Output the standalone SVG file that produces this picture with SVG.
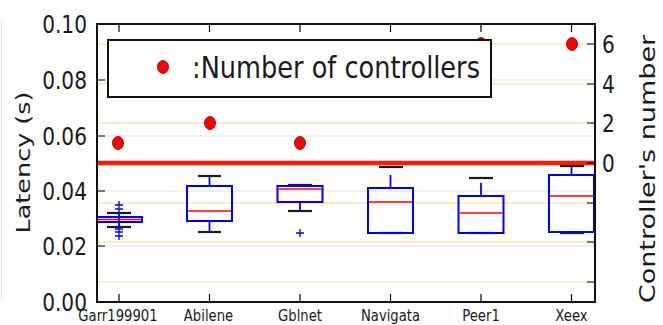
<svg xmlns="http://www.w3.org/2000/svg" width="663" height="325" viewBox="0 0 663 325">
<style>
text{font-family:"DejaVu Sans","Liberation Sans",sans-serif;fill:#1a1a1a}
.gg{stroke:#ebebeb;stroke-width:1.5}
.og{stroke:#ffe2b4;stroke-width:1.5}
.tk{stroke:#000;stroke-width:1.2}
.box{fill:none;stroke:#0000ff;stroke-width:2}
.wh{stroke:#0000ff;stroke-width:1.8}
.cap{stroke:#1a1a1a;stroke-width:2.2}
.med{stroke:#ff0000;stroke-width:1.6}
.fl{stroke:#0000ff;stroke-width:1.3;fill:none}
.dot{fill:#ff0000;stroke:#7a0000;stroke-width:0.8}
.yl{font-size:25.5px;text-anchor:end}
.yr{font-size:25.5px}
.xl{font-size:16.5px;text-anchor:middle}
</style>
<rect width="663" height="325" fill="#fff"/>
<line x1="1.5" y1="22" x2="1.5" y2="298" stroke="#e4e4e4" stroke-width="1"/>
<g id="grid">
<line class="gg" x1="97" y1="80" x2="595" y2="80"/>
<line class="gg" x1="97" y1="136" x2="595" y2="136"/>
<line class="gg" x1="97" y1="191" x2="595" y2="191"/>
<line class="gg" x1="97" y1="246" x2="595" y2="246"/>
<line class="og" x1="97" y1="44" x2="595" y2="44"/>
<line class="og" x1="97" y1="84" x2="595" y2="84"/>
<line class="og" x1="97" y1="123" x2="595" y2="123"/>
<line class="og" x1="97" y1="203" x2="595" y2="203"/>
<line class="og" x1="97" y1="242" x2="595" y2="242"/>
<line class="og" x1="97" y1="282" x2="595" y2="282"/>
</g>
<g id="box-garr">
<line class="wh" x1="119" y1="213" x2="119" y2="227"/>
<line class="cap" x1="107" y1="213" x2="131" y2="213"/>
<line class="cap" x1="107" y1="227" x2="131" y2="227"/>
<rect class="box" x="97" y="217" width="45" height="5"/>
<line class="med" x1="98" y1="219.5" x2="141" y2="219.5"/>
<path class="fl" d="M115 205h8M119 201v8M115 209h8M119 205v8M115 229h8M119 225v8M115 232h8M119 228v8M115 236h8M119 232v8"/>
</g>
<g id="box-abilene">
<line class="wh" x1="209.5" y1="176" x2="209.5" y2="186"/>
<line class="wh" x1="209.5" y1="221" x2="209.5" y2="232"/>
<line class="cap" x1="198" y1="176" x2="221" y2="176"/>
<line class="cap" x1="198" y1="232" x2="221" y2="232"/>
<rect class="box" x="187" y="186" width="45" height="35"/>
<line class="med" x1="188" y1="211" x2="231" y2="211"/>
</g>
<g id="box-gblnet">
<line class="wh" x1="300" y1="202" x2="300" y2="211"/>
<line class="cap" x1="288" y1="185" x2="312" y2="185"/>
<line class="cap" x1="288" y1="211" x2="312" y2="211"/>
<rect class="box" x="277.5" y="186" width="45" height="16"/>
<line class="med" x1="278.5" y1="189" x2="321.5" y2="189"/>
<path class="fl" d="M296 233h8M300 229v8"/>
</g>
<g id="box-navigata">
<line class="wh" x1="390.5" y1="175" x2="390.5" y2="188"/>
<line class="cap" x1="379" y1="167" x2="403" y2="167"/>
<line class="cap" x1="379" y1="233" x2="403" y2="233"/>
<rect class="box" x="368" y="188" width="45" height="45"/>
<line class="med" x1="369" y1="202" x2="412" y2="202"/>
</g>
<g id="box-peer1">
<line class="wh" x1="481" y1="183" x2="481" y2="196"/>
<line class="cap" x1="469" y1="178" x2="493" y2="178"/>
<line class="cap" x1="469" y1="233" x2="493" y2="233"/>
<rect class="box" x="458.5" y="196" width="45" height="37"/>
<line class="med" x1="459.5" y1="213" x2="502.5" y2="213"/>
</g>
<g id="box-xeex">
<line class="wh" x1="571.5" y1="166" x2="571.5" y2="175"/>
<line class="cap" x1="560" y1="166" x2="584" y2="166"/>
<line class="cap" x1="560" y1="233" x2="584" y2="233"/>
<rect class="box" x="549" y="175" width="45" height="57"/>
<line class="med" x1="550" y1="196" x2="593" y2="196"/>
</g>
<line id="threshold" x1="97" y1="163" x2="595" y2="163" stroke="#ff1a00" stroke-width="4.5"/>
<g id="controllers">
<ellipse class="dot" cx="118" cy="143" rx="5.5" ry="6.5"/>
<ellipse class="dot" cx="210" cy="123" rx="5.5" ry="6.5"/>
<ellipse class="dot" cx="300" cy="143" rx="5.5" ry="6.5"/>
<ellipse class="dot" cx="481" cy="44" rx="5.5" ry="6.5"/>
<ellipse class="dot" cx="572" cy="44" rx="5.5" ry="6.5"/>
</g>
<g id="axes">
<rect x="97" y="24" width="498" height="278" fill="none" stroke="#111" stroke-width="2"/>
<path class="tk" d="M119 24v8M209.5 24v8M300 24v8M390.5 24v8M481 24v8M571.5 24v8M119 302v-8M209.5 302v-8M300 302v-8M390.5 302v-8M481 302v-8M571.5 302v-8"/>
<path class="tk" d="M97 80h8M97 136h8M97 191h8M97 246h8"/>
<path class="tk" d="M595 44h-8M595 84h-8M595 123h-8M595 163h-8M595 203h-8M595 242h-8M595 282h-8"/>
</g>
<g id="y-left-labels">
<text class="yl" transform="translate(87,33) scale(0.79,1)">0.10</text>
<text class="yl" transform="translate(87,89) scale(0.79,1)">0.08</text>
<text class="yl" transform="translate(87,145) scale(0.79,1)">0.06</text>
<text class="yl" transform="translate(87,200) scale(0.79,1)">0.04</text>
<text class="yl" transform="translate(87,255) scale(0.79,1)">0.02</text>
<text class="yl" transform="translate(87,311) scale(0.79,1)">0.00</text>
</g>
<g id="y-right-labels">
<text class="yr" transform="translate(602,53) scale(0.79,1)">6</text>
<text class="yr" transform="translate(602,93) scale(0.79,1)">4</text>
<text class="yr" transform="translate(602,132) scale(0.79,1)">2</text>
<text class="yr" transform="translate(602,172) scale(0.79,1)">0</text>
</g>
<g id="x-labels">
<text class="xl" transform="translate(118,320.5) scale(0.8,1)">Garr199901</text>
<text class="xl" transform="translate(208.5,320.5) scale(0.8,1)">Abilene</text>
<text class="xl" transform="translate(300,320.5) scale(0.8,1)">Gblnet</text>
<text class="xl" transform="translate(390.5,320.5) scale(0.8,1)">Navigata</text>
<text class="xl" transform="translate(481,320.5) scale(0.8,1)">Peer1</text>
<text class="xl" transform="translate(571.5,320.5) scale(0.8,1)">Xeex</text>
</g>
<g id="axis-titles">
<text transform="translate(30,162.5) rotate(-90) scale(1,0.79)" font-size="25.5" text-anchor="middle">Latency (s)</text>
<text transform="translate(655,169) rotate(-90) scale(1,0.79)" font-size="27" text-anchor="middle">Controller's number</text>
</g>
<g id="legend">
<rect x="108" y="40" width="383" height="57" fill="#fff" stroke="#111" stroke-width="2"/>
<ellipse class="dot" cx="163" cy="67" rx="5.5" ry="6.5"/>
<text x="192" y="78" font-size="29.5" textLength="288" lengthAdjust="spacingAndGlyphs">:Number of controllers</text>
</g>
</svg>
